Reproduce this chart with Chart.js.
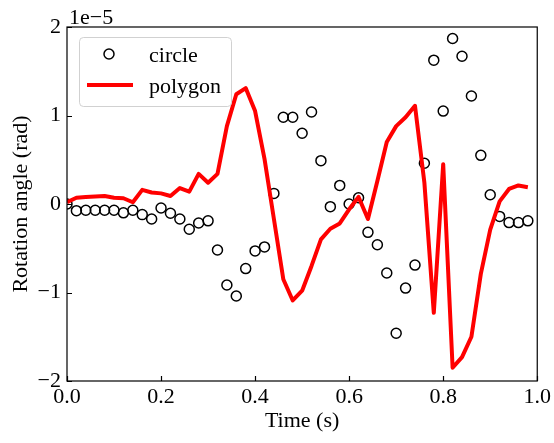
<!DOCTYPE html>
<html>
<head>
<meta charset="utf-8">
<script src="https://cdn.jsdelivr.net/npm/chart.js@4.4.1/dist/chart.umd.min.js"></script>
<style>
  html, body { margin: 0; padding: 0; background: #fff; }
  #wrap { width: 554px; height: 443px; }
</style>
</head>
<body>
<div id="wrap"><canvas id="rotation-chart"></canvas></div>
<script>
// time samples (s)
const times = [0.00, 0.02, 0.04, 0.06, 0.08, 0.10, 0.12, 0.14, 0.16, 0.18,
               0.20, 0.22, 0.24, 0.26, 0.28, 0.30, 0.32, 0.34, 0.36, 0.38,
               0.40, 0.42, 0.44, 0.46, 0.48, 0.50, 0.52, 0.54, 0.56, 0.58,
               0.60, 0.62, 0.64, 0.66, 0.68, 0.70, 0.72, 0.74, 0.76, 0.78,
               0.80, 0.82, 0.84, 0.86, 0.88, 0.90, 0.92, 0.94, 0.96, 0.98];

// rotation angle, in units of 1e-5 rad
const circleAngle = [0.00, -0.075, -0.07, -0.07, -0.07, -0.07, -0.10, -0.07, -0.12, -0.17,
                     -0.045, -0.105, -0.17, -0.285, -0.215, -0.19, -0.52, -0.915, -1.04, -0.73,
                     -0.53, -0.485, 0.12, 0.98, 0.98, 0.80, 1.04, 0.49, -0.03, 0.21,
                     0.00, 0.07, -0.32, -0.46, -0.78, -1.46, -0.95, -0.69, 0.46, 1.625,
                     1.05, 1.87, 1.67, 1.22, 0.55, 0.105, -0.14, -0.21, -0.21, -0.19];

const polygonAngle = [0.02, 0.07, 0.08, 0.085, 0.09, 0.07, 0.065, 0.02, 0.16, 0.13,
                      0.12, 0.09, 0.18, 0.14, 0.34, 0.24, 0.34, 0.88, 1.24, 1.31,
                      1.05, 0.51, -0.17, -0.85, -1.09, -0.98, -0.70, -0.40, -0.28, -0.22,
                      -0.06, 0.08, -0.17, 0.26, 0.70, 0.88, 0.98, 1.11, 0.24, -1.23,
                      0.45, -1.85, -1.73, -1.50, -0.79, -0.29, 0.03, 0.17, 0.21, 0.19];

const seriesNames = ['circle', 'polygon'];
const xTicks = [0, 0.2, 0.4, 0.6, 0.8, 1.0];
const yTicks = [-2, -1, 0, 1, 2];
const offsetLabel = '1e\u22125';

const serif = "'Liberation Serif', 'DejaVu Serif', serif";
const fontPx = 22;

const circlePoints = times.map((t, i) => ({x: t, y: circleAngle[i]}));
const polygonPoints = times.map((t, i) => ({x: t, y: polygonAngle[i]}));

function minusSign(v) {
    return v < 0 ? '\u2212' + Math.abs(v) : String(v);
}

// frame, inward ticks, offset text and the legend box inside the axes
const axesDecor = {
    id: 'axesDecor',
    afterDraw(chart) {
        const ctx = chart.ctx;
        const a = chart.chartArea;
        const xs = chart.scales.x, ys = chart.scales.y;
        ctx.save();
        ctx.strokeStyle = '#000';
        ctx.lineWidth = 1.2;
        ctx.beginPath();
        xTicks.forEach(v => {
            const px = Math.round(xs.getPixelForValue(v)) + 0.5;
            ctx.moveTo(px, a.bottom);
            ctx.lineTo(px, a.bottom - 5);
        });
        yTicks.forEach(v => {
            const py = Math.round(ys.getPixelForValue(v)) + 0.5;
            ctx.moveTo(a.left, py);
            ctx.lineTo(a.left + 5, py);
        });
        ctx.stroke();
        ctx.strokeRect(a.left, a.top, a.right - a.left, a.bottom - a.top);

        ctx.fillStyle = '#000';
        ctx.font = fontPx + 'px ' + serif;
        ctx.textAlign = 'left';
        ctx.textBaseline = 'alphabetic';
        ctx.fillText(offsetLabel, a.left + 2, a.top - 3);

        // legend
        const lx = a.left + 12, ly = a.top + 10, lw = 152, lh = 69;
        ctx.beginPath();
        ctx.roundRect(lx + 0.5, ly + 0.5, lw, lh, 4);
        ctx.fillStyle = 'rgba(255,255,255,0.8)';
        ctx.fill();
        ctx.strokeStyle = 'rgba(204,204,204,0.9)';
        ctx.lineWidth = 1;
        ctx.stroke();

        const ds0 = chart.data.datasets[0], ds1 = chart.data.datasets[1];
        ctx.beginPath();
        ctx.arc(lx + 30, ly + 17, ds0.pointRadius, 0, Math.PI * 2);
        ctx.strokeStyle = ds0.borderColor;
        ctx.lineWidth = ds0.borderWidth;
        ctx.stroke();

        ctx.beginPath();
        ctx.moveTo(lx + 8, ly + 48);
        ctx.lineTo(lx + 54, ly + 48);
        ctx.strokeStyle = ds1.borderColor;
        ctx.lineWidth = ds1.borderWidth;
        ctx.stroke();

        ctx.fillStyle = '#000';
        ctx.fillText(ds0.label, lx + 70, ly + 24.5);
        ctx.fillText(ds1.label, lx + 70, ly + 55.5);
        ctx.restore();
    }
};

const rotationConfig = {
    type: 'scatter',
    data: {
        datasets: [
            {
                label: seriesNames[0],
                data: circlePoints,
                showLine: false,
                pointStyle: 'circle',
                pointRadius: 5,
                pointHoverRadius: 5,
                borderColor: '#000',
                backgroundColor: 'rgba(0,0,0,0)',
                borderWidth: 1.5,
                order: 2
            },
            {
                label: seriesNames[1],
                type: 'line',
                data: polygonPoints,
                showLine: true,
                pointRadius: 0,
                borderColor: '#ff0000',
                backgroundColor: '#ff0000',
                borderWidth: 4,
                borderJoinStyle: 'round',
                tension: 0,
                order: 1
            }
        ]
    },
    options: {
        responsive: true,
        maintainAspectRatio: false,
        animation: false,
        layout: { padding: { left: 0, right: 16, top: 27, bottom: 0 } },
        plugins: {
            legend: { display: false },
            tooltip: { enabled: false }
        },
        scales: {
            x: {
                type: 'linear',
                min: 0,
                max: 1,
                afterBuildTicks: s => { s.ticks = xTicks.map(v => ({value: v})); },
                afterFit: s => { s.height = 62; },
                grid: { display: false, drawTicks: false, tickLength: 0 },
                border: { display: false },
                ticks: {
                    color: '#000',
                    padding: 3,
                    maxRotation: 0,
                    font: { family: serif, size: fontPx },
                    callback: v => v.toFixed(1)
                },
                title: {
                    display: true,
                    text: 'Time (s)',
                    color: '#000',
                    font: { family: serif, size: fontPx },
                    padding: { top: 0, bottom: 9 }
                }
            },
            y: {
                min: -2,
                max: 2,
                afterBuildTicks: s => { s.ticks = yTicks.map(v => ({value: v})); },
                afterFit: s => { s.width = 67; },
                grid: { display: false, drawTicks: false, tickLength: 0 },
                border: { display: false },
                ticks: {
                    color: '#000',
                    padding: 6,
                    font: { family: serif, size: fontPx },
                    callback: v => minusSign(v)
                },
                title: {
                    display: true,
                    text: 'Rotation angle (rad)',
                    color: '#000',
                    font: { family: serif, size: fontPx },
                    padding: { top: 8, bottom: 0 }
                }
            }
        }
    },
    plugins: [axesDecor]
};

const rotationChart = new Chart(document.getElementById('rotation-chart'), rotationConfig);
</script>
</body>
</html>
